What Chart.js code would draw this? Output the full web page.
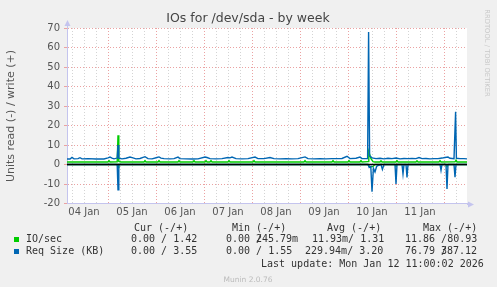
<!DOCTYPE html>
<html>
<head>
<meta charset="utf-8">
<script src="https://cdn.jsdelivr.net/npm/chart.js@4.4.1/dist/chart.umd.min.js"></script>
<style>
  html, body { margin: 0; padding: 0; background: #f0f0f0; }
  canvas { display: block; }
</style>
</head>
<body>
<canvas id="myChart" width="497" height="287"></canvas>
<script>
// time in hours since 04 Jan 00:00
var dayLabels = ['04 Jan', '05 Jan', '06 Jan', '07 Jan', '08 Jan', '09 Jan', '10 Jan', '11 Jan'];

// Req Size (KB), write (+)
var reqWrite = [[3.5,2.8],[5,2.8],[6,3.6],[7,2.9],[9,3.0],[10,3.5],[11,2.9],[14,3.0],[18,2.8],[22,2.8],
  [24,3.4],[25,3.8],[26,3.3],[27,2.9],[28.6,3.3],[29,10],[29.4,3.2],[31,2.9],[33,3.2],[35,3.8],[36.5,3.4],
  [38,2.9],[40,3.1],[42.5,4.0],[44,3.0],[46,2.9],[48.5,3.6],[49.5,3.9],[50.5,3.3],[52,3.0],[55,2.9],[57,3.0],
  [59,3.8],[60,3.0],[63,2.9],[66,2.8],[69,2.9],[72.5,3.8],[73.5,3.6],[75,3.0],[78,2.9],[81,3.0],[84,3.6],
  [85,3.4],[86,3.8],[88,3.0],[91,2.9],[94,3.0],[97.5,3.8],[99,3.0],[102,3.0],[105,3.6],[107,3.0],[110,2.9],
  [113,3.0],[116,2.9],[119,3.0],[122.5,3.9],[124,3.0],[127,2.9],[130,3.0],[133,2.9],[136,3.0],[139,3.0],
  [141,3.1],[143.5,4.2],[145,3.0],[148,3.2],[150,3.8],[151,3.0],[153.8,3.0],[154.3,68],[154.8,4.5],[156,3.4],
  [158,3.0],[160,3.2],[162,2.9],[164,3.2],[166,3.0],[168,3.3],[170,2.9],[172,3.1],[174,3.0],[176,3.1],[178,3.0],
  [179.5,3.6],[181,3.0],[183,3.1],[185,2.9],[187,3.0],[189,3.0],[191,3.3],[192.5,3.6],[194,3.8],[195,3.2],
  [197,3.0],[197.4,3.0],[197.8,27],[198.2,3.2],[200,3.0],[202,3.0],[203.5,2.9]];

// Req Size (KB), read (-)
var reqRead = [[3.5,0],[28.6,0],[29,-13],[29.4,0],[154,0],[154.6,-1.5],[155.4,-1],[156,-14],[156.7,-2],
  [157.5,-3.8],[158.3,-1],[159,-0.5],[160.5,0],[161.2,-2.5],[162,0],[167.5,0],[168,-10],[168.5,0],[171,0],
  [171.5,-4.8],[172,0],[173,0],[173.5,-6.6],[174,0],[190,0],[190.5,-3],[191,0],[193,0],[193.5,-12.5],[194,0],
  [197,0],[197.5,-6.5],[198,0],[203.5,0]];

// IO/sec, write (+)
var ioWrite = [[3.5,1.3],[24,1.3],[24.5,2.0],[25,1.3],[28.6,1.4],[29,15],[29.4,1.6],[30.5,1.3],[42,1.3],
  [42.5,2.0],[43,1.3],[49,1.3],[49.5,2.0],[50,1.3],[59,1.3],[59.5,2.0],[60,1.3],[66.5,1.3],[67,2.0],[67.5,1.3],
  [72.5,1.3],[73,2.0],[73.5,1.3],[75,1.3],[75.5,2.0],[76,1.3],[84,1.3],[84.5,2.0],[85,1.3],[96.5,1.3],[97,2.0],
  [97.5,1.3],[122,1.3],[122.5,2.0],[123,1.3],[136,1.3],[136.5,2.0],[137,1.3],[144,1.3],[144.5,2.0],[145,1.3],
  [150,1.3],[150.5,2.0],[151,1.3],[154,1.5],[154.4,6.5],[155.5,3.0],[156.5,1.5],[157.5,1.3],[160,1.3],
  [160.5,1.9],[161,1.3],[168,1.3],[168.5,2.0],[169,1.3],[178,1.3],[178.5,1.9],[179,1.3],[189.5,1.3],[190,2.0],
  [190.5,1.3],[197.5,1.4],[198,2.2],[198.5,1.3],[203.5,1.3]];

// IO/sec, read (-)
var ioRead = [[3.5,0],[28.6,0],[29,-1.5],[29.4,0],[154,0],[155,-1.3],[156.5,-1.0],[157.5,0],[167.5,0],
  [168,-0.8],[168.5,0],[193,0],[193.5,-1],[194,0],[203.5,0]];

var legendHead = ['Cur (-/+)', 'Min (-/+)', 'Avg (-/+)', 'Max (-/+)'];
var ioRow = ['0.00 / 1.42', '0.00 /', '245.79m', '11.93m/ 1.31', '11.86 /80.93'];
var reqRow = ['0.00 / 3.55', '0.00 / 1.55', '229.94m/ 3.20', '76.79 /', '387.12'];
var lastUpdate = 'Last update: Mon Jan 12 11:00:02 2026';

var GREEN = '#00cc00', BLUE = '#0066b3';
var RED_GRID = '#eba2a2', GRAY_GRID = '#d4d4d4', AXIS = '#c4c4ee';

function pts(arr) { return arr.map(function(p) { return {x: p[0], y: p[1]}; }); }

var gridHours = [];
for (var h = 6; h < 203; h += 6) gridHours.push(h);

var decor = {
  id: 'decor',
  beforeDraw: function(chart) {
    var ctx = chart.ctx, a = chart.chartArea;
    ctx.save();
    ctx.fillStyle = '#f0f0f0';
    ctx.fillRect(0, 0, chart.width, chart.height);
    ctx.fillStyle = '#ffffff';
    ctx.fillRect(a.left, a.top, a.right - a.left, a.bottom - a.top);
    ctx.restore();
  },
  afterDatasetsDraw: function(chart) {
    var ctx = chart.ctx, a = chart.chartArea;
    var y0 = chart.scales.y.getPixelForValue(0);
    ctx.save();
    ctx.strokeStyle = '#000';
    ctx.lineWidth = 1.5;
    ctx.beginPath();
    ctx.moveTo(a.left, y0);
    ctx.lineTo(a.right, y0);
    ctx.stroke();
    ctx.restore();
  },
  afterDraw: function(chart) {
    var ctx = chart.ctx, a = chart.chartArea;
    ctx.save();
    // axis arrows
    ctx.strokeStyle = AXIS;
    ctx.fillStyle = AXIS;
    ctx.lineWidth = 1;
    ctx.beginPath();
    ctx.moveTo(a.left + 0.5, a.top);
    ctx.lineTo(a.left + 0.5, a.top - 4);
    ctx.moveTo(a.right, Math.round(a.bottom) + 0.5);
    ctx.lineTo(a.right + 4, Math.round(a.bottom) + 0.5);
    ctx.stroke();
    ctx.beginPath();
    ctx.moveTo(a.left + 0.5, a.top - 8);
    ctx.lineTo(a.left - 2.5, a.top - 2);
    ctx.lineTo(a.left + 3.5, a.top - 2);
    ctx.fill();
    var by = Math.round(a.bottom) + 0.5;
    ctx.beginPath();
    ctx.moveTo(a.right + 7, by);
    ctx.lineTo(a.right + 1, by - 3);
    ctx.lineTo(a.right + 1, by + 3);
    ctx.fill();

    // title
    ctx.fillStyle = '#444';
    ctx.textAlign = 'center';
    ctx.textBaseline = 'middle';
    ctx.font = '12.5px "DejaVu Sans"';
    ctx.fillText('IOs for /dev/sda - by week', 248, 19);

    // y axis title
    ctx.save();
    ctx.translate(11, 116);
    ctx.rotate(-Math.PI / 2);
    ctx.font = '11px "DejaVu Sans"';
    ctx.fillStyle = '#555';
    ctx.fillText('Units read (-) / write (+)', 0, 0);
    ctx.restore();

    // watermark
    ctx.save();
    ctx.translate(487, 53);
    ctx.rotate(Math.PI / 2);
    ctx.font = '6.8px "DejaVu Sans"';
    ctx.fillStyle = '#c8c8c8';
    ctx.fillText('RRDTOOL / TOBI OETIKER', 0, 0);
    ctx.restore();

    // legend
    ctx.font = '10px "DejaVu Sans Mono"';
    ctx.fillStyle = '#333';
    ctx.textAlign = 'left';
    ctx.fillText(legendHead[0], 134, 228);
    ctx.fillText(legendHead[1], 232, 228);
    ctx.fillText(legendHead[2], 327, 228);
    ctx.fillText(legendHead[3], 423, 228);

    ctx.fillText('IO/sec', 26, 239.5);
    ctx.fillText(ioRow[0], 131, 239.5);
    ctx.fillText(ioRow[1], 226, 239.5);
    ctx.fillText(ioRow[2], 256, 239.5);
    ctx.fillText(ioRow[3], 312, 239.5);
    ctx.fillText(ioRow[4], 405, 239.5);

    ctx.fillText('Req Size (KB)', 26, 251.5);
    ctx.fillText(reqRow[0], 131, 251.5);
    ctx.fillText(reqRow[1], 226, 251.5);
    ctx.fillText(reqRow[2], 305, 251.5);
    ctx.fillText(reqRow[3], 405, 251.5);
    ctx.fillText(reqRow[4], 441, 251.5);

    ctx.fillText(lastUpdate, 261, 264);

    ctx.fillStyle = GREEN;
    ctx.fillRect(14, 237, 5, 5);
    ctx.fillStyle = BLUE;
    ctx.fillRect(14, 249, 5, 5);

    ctx.font = '7.5px "DejaVu Sans"';
    ctx.fillStyle = '#bbb';
    ctx.textAlign = 'center';
    ctx.fillText('Munin 2.0.76', 248, 280);
    ctx.restore();
  }
};

var ctx = document.getElementById('myChart');
var chart = new Chart(ctx, {
  type: 'line',
  data: {
    datasets: [
      { label: 'Req Size write', data: pts(reqWrite), borderColor: BLUE, borderWidth: 1.4 },
      { label: 'Req Size read', data: pts(reqRead), borderColor: BLUE, borderWidth: 1.4 },
      { label: 'IO/sec write', data: pts(ioWrite), borderColor: GREEN, borderWidth: 1.4 },
      { label: 'IO/sec read', data: pts(ioRead), borderColor: GREEN, borderWidth: 1.4 }
    ]
  },
  options: {
    responsive: false,
    animation: false,
    devicePixelRatio: 1,
    layout: { padding: { left: 0, right: 30, top: 28, bottom: 0 } },
    elements: { point: { radius: 0 }, line: { tension: 0, fill: false } },
    plugins: { legend: { display: false }, tooltip: { enabled: false }, title: { display: false } },
    scales: {
      x: {
        type: 'linear',
        min: 3.5,
        max: 203.5,
        afterFit: function(s) { s.height = 83.5; },
        afterBuildTicks: function(s) { s.ticks = gridHours.map(function(v) { return {value: v}; }); },
        ticks: {
          autoSkip: false,
          maxRotation: 0,
          padding: 3,
          color: '#555',
          font: { family: 'DejaVu Sans', size: 10 },
          callback: function(v) {
            if (v % 24 === 12) return dayLabels[(v - 12) / 24];
            return '';
          }
        },
        grid: {
          drawTicks: false,
          color: function(c) { return c.tick && c.tick.value % 24 === 0 ? RED_GRID : GRAY_GRID; },
          lineWidth: 1
        },
        border: { color: AXIS, width: 1, dash: [1, 2] }
      },
      y: {
        min: -20,
        max: 70,
        afterFit: function(s) { s.width = 67; },
        ticks: {
          stepSize: 5,
          padding: 4,
          color: '#555',
          font: { family: 'DejaVu Sans', size: 10 },
          callback: function(v) { return v % 10 === 0 ? v : ''; }
        },
        grid: {
          tickLength: 3,
          color: function(c) { return c.tick && c.tick.value % 10 === 0 ? RED_GRID : GRAY_GRID; },
          lineWidth: 1
        },
        border: { color: AXIS, width: 1, dash: [1, 2] }
      }
    }
  },
  plugins: [decor]
});
</script>
</body>
</html>
